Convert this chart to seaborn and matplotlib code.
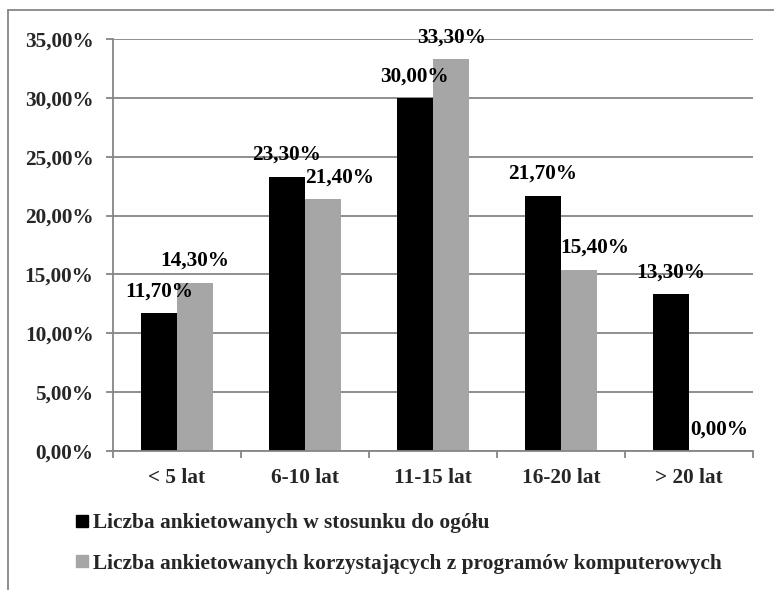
import numpy as np
import pandas as pd
import seaborn as sns
import matplotlib.pyplot as plt
from matplotlib.lines import Line2D
from matplotlib.ticker import FuncFormatter

# dane (w %)
categories = ['< 5 lat', '6-10 lat', '11-15 lat', '16-20 lat', '> 20 lat']
ogol = [11.7, 23.3, 30.0, 21.7, 13.3]
programy = [14.3, 21.4, 33.3, 15.4, 0.0]
series = ['Liczba ankietowanych w stosunku do ogółu',
          'Liczba ankietowanych korzystających z programów komputerowych']
colors = ['#000000', '#a6a6a6']

df = pd.DataFrame({
    'kategoria': categories * 2,
    'seria': [series[0]] * len(categories) + [series[1]] * len(categories),
    'wartosc': ogol + programy,
})

sns.set_theme(style='white')
plt.rcParams['font.family'] = ['Liberation Serif', 'DejaVu Serif']
plt.rcParams['font.weight'] = 'bold'
fs = 15.3
plt.rcParams['font.size'] = fs

grey = '#868686'

fig = plt.figure(figsize=(7.74, 5.90), dpi=100)
ax = fig.add_axes([113 / 774, 1 - 451 / 590, 640 / 774, 412 / 590])

sns.barplot(data=df, x='kategoria', y='wartosc', hue='seria',
            order=categories, hue_order=series, palette=colors,
            width=0.57, gap=0, saturation=1, errorbar=None,
            linewidth=0, legend=False, ax=ax)

# etykiety wartości (niektóre przesunięte w prawo jak w oryginale)
shift = {(1, 1): 12, (1, 3): 11, (1, 4): 9}
for s, cont in enumerate(ax.containers):
    for k, bar in enumerate(cont):
        v = bar.get_height()
        ax.annotate(f'{v:.2f}%'.replace('.', ','),
                    (bar.get_x() + bar.get_width() / 2, v),
                    xytext=(shift.get((s, k), 0), 12), textcoords='offset points',
                    ha='center', va='baseline', fontsize=fs, fontweight='bold',
                    color='black', annotation_clip=False)

ax.set_xlim(-0.5, len(categories) - 0.5)
ax.set_ylim(0, 35)
ax.set_yticks(np.arange(0, 36, 5))
ax.yaxis.set_major_formatter(FuncFormatter(lambda v, p: f'{v:.2f}%'.replace('.', ',')))
ax.set_xlabel('')
ax.set_ylabel('')

ax.grid(axis='y', color=grey, lw=1.3)
ax.set_axisbelow(True)
for side in ['top', 'right']:
    ax.spines[side].set_visible(False)
for side in ['left', 'bottom']:
    ax.spines[side].set_color(grey)
    ax.spines[side].set_linewidth(1.3)

ax.set_xticks(np.arange(-0.5, len(categories), 1), minor=True)
ax.tick_params(axis='x', which='major', length=0, pad=12.5, labelsize=fs)
ax.tick_params(axis='x', which='minor', length=5, width=1.3, color=grey, direction='out')
ax.tick_params(axis='y', length=5, width=1.3, color=grey, direction='out', pad=9, labelsize=fs)
ax.tick_params(axis='both', bottom=True, left=True, which='both')
for t in ax.get_xticklabels() + ax.get_yticklabels():
    t.set_fontweight('bold')

# ramka obszaru wykresu (lewa i górna krawędź)
fig.add_artist(Line2D([8 / 774, 8 / 774], [0, 1 - 10 / 590], transform=fig.transFigure, color=grey, lw=1.3))
fig.add_artist(Line2D([8 / 774, 1], [1 - 10 / 590, 1 - 10 / 590], transform=fig.transFigure, color=grey, lw=1.3))

handles = [Line2D([], [], marker='s', linestyle='none', markersize=8,
                  markerfacecolor=c, markeredgecolor=c) for c in colors]
fig.legend(handles, series, loc='upper left', bbox_to_anchor=(76 / 774, 1 - 513 / 590),
           frameon=False, borderpad=0, borderaxespad=0, handlelength=0.6,
           handletextpad=0.2, labelspacing=0.97, prop={'size': 15.4, 'weight': 'bold'})

fig.savefig('out.png', dpi=100)
